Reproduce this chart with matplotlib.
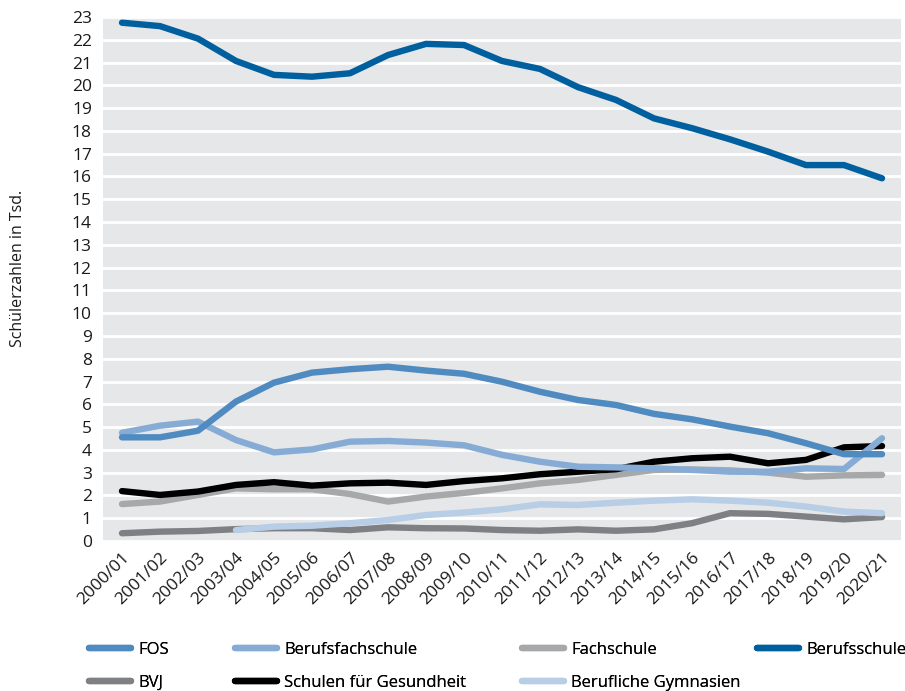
import numpy as np
import matplotlib.pyplot as plt

plt.rcParams['font.family'] = ['Open Sans', 'DejaVu Sans']

# Schuljahre
jahre = ["2000/01", "2001/02", "2002/03", "2003/04", "2004/05", "2005/06", "2006/07",
         "2007/08", "2008/09", "2009/10", "2010/11", "2011/12", "2012/13", "2013/14",
         "2014/15", "2015/16", "2016/17", "2017/18", "2018/19", "2019/20", "2020/21"]

# Schülerzahlen in Tsd.
berufsschule = [22.75, 22.6, 22.05, 21.07, 20.46, 20.38, 20.53, 21.33, 21.82, 21.77, 21.07,
                20.72, 19.92, 19.36, 18.55, 18.12, 17.63, 17.09, 16.5, 16.5, 15.92]
fos = [4.55, 4.55, 4.84, 6.12, 6.95, 7.39, 7.54, 7.65, 7.48, 7.34, 6.99,
       6.55, 6.19, 5.97, 5.58, 5.34, 5.02, 4.73, 4.29, 3.81, 3.81]
berufsfachschule = [4.75, 5.06, 5.24, 4.43, 3.89, 4.02, 4.36, 4.39, 4.32, 4.2, 3.78,
                    3.48, 3.26, 3.23, 3.19, 3.12, 3.04, 3.04, 3.19, 3.16, 4.51]
fachschule = [1.62, 1.73, 2.02, 2.31, 2.27, 2.27, 2.06, 1.73, 1.95, 2.11, 2.31,
              2.53, 2.68, 2.9, 3.12, 3.14, 3.1, 3.0, 2.82, 2.88, 2.9]
bvj = [0.34, 0.41, 0.44, 0.52, 0.56, 0.56, 0.48, 0.6, 0.56, 0.55, 0.48,
       0.45, 0.51, 0.45, 0.51, 0.78, 1.22, 1.19, 1.07, 0.95, 1.05]
gesundheit = [2.19, 2.02, 2.17, 2.46, 2.58, 2.43, 2.53, 2.56, 2.46, 2.63, 2.75,
              2.93, 3.04, 3.15, 3.48, 3.63, 3.7, 3.41, 3.56, 4.11, 4.17]
gymnasien = [np.nan, np.nan, np.nan, 0.48, 0.63, 0.67, 0.78, 0.92, 1.14, 1.25, 1.39,
             1.61, 1.58, 1.68, 1.77, 1.83, 1.77, 1.68, 1.51, 1.29, 1.22]

x = np.arange(len(jahre))

fig = plt.figure(figsize=(9.05, 6.91), dpi=100)
ax = fig.add_axes([0.1138, 0.2171, 0.8818, 0.7583])
ax.set_facecolor('#e6e7e9')

stil = dict(lw=4.6, solid_capstyle='round', solid_joinstyle='round')
l_bvj, = ax.plot(x, bvj, color='#7f8083', label='BVJ', **stil)
l_fach, = ax.plot(x, fachschule, color='#a7a8aa', label='Fachschule', **stil)
l_ges, = ax.plot(x, gesundheit, color='#000000', label='Schulen für Gesundheit', **stil)
l_bfs, = ax.plot(x, berufsfachschule, color='#86acd6', label='Berufsfachschule', **stil)
l_fos, = ax.plot(x, fos, color='#4f8ac0', label='FOS', **stil)
l_gym, = ax.plot(x, gymnasien, color='#b8cde6', label='Berufliche Gymnasien', **stil)
l_bs, = ax.plot(x, berufsschule, color='#00609f', label='Berufsschule', **stil)

ax.set_xlim(-0.5, 20.5)
ax.set_ylim(0, 23)
ax.set_yticks(range(0, 24))
ax.set_xticks(x)
ax.set_xticklabels(jahre, rotation=45, ha='right', rotation_mode='anchor')
ax.tick_params(axis='both', length=0, labelsize=12.5, colors='#1a1a1a')
ax.tick_params(axis='y', pad=8)
ax.tick_params(axis='x', pad=6)
ax.grid(axis='y', color='white', lw=2)
ax.set_axisbelow(True)
for s in ax.spines.values():
    s.set_visible(False)

fig.text(0.02, 1 - 268 / 691, 'Schülerzahlen in Tsd.', rotation=90, ha='center',
         va='center', fontsize=11.5, color='#1a1a1a')

# Legende in vier Spalten
spalten = [([l_fos, l_bvj], 89), ([l_bfs, l_ges], 235),
           ([l_fach, l_gym], 522), ([l_bs], 757)]
for handles, px in spalten:
    leg = fig.legend(handles=handles, loc='upper left',
                     bbox_to_anchor=(px / 905, 1 - 642 / 691),
                     frameon=False, fontsize=12, handlelength=2.5,
                     handletextpad=0.45, borderpad=0, borderaxespad=0,
                     labelspacing=1.0)
    fig.add_artist(leg)

fig.savefig('out.png', dpi=100)
